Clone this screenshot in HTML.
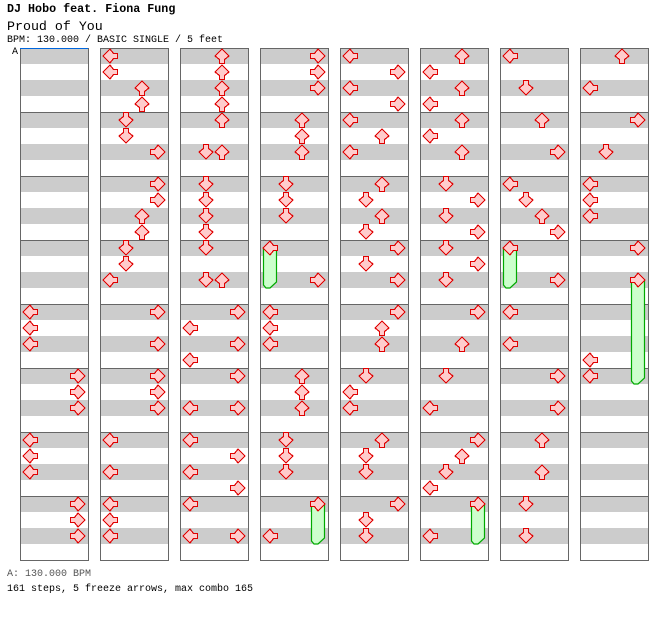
<!DOCTYPE html>
<html><head><meta charset="utf-8"><style>
body{margin:0;background:#fff;width:672px;height:620px;overflow:hidden;position:relative;font-family:"Liberation Mono",monospace}
.t{position:absolute;left:7px;white-space:pre;line-height:1}
</style></head><body>
<div class="t" style="top:4px;font-size:11.7px;font-weight:bold">DJ Hobo feat. Fiona Fung</div>
<div class="t" style="top:20px;font-size:13.3px">Proud of You</div>
<div class="t" style="top:36px;font-size:10px">BPM: 130.000 / BASIC SINGLE / 5 feet</div>
<div class="t" style="top:48px;left:12px;font-size:10px">A</div>
<div class="t" style="top:570px;font-size:10px;color:#555">A: 130.000 BPM</div>
<div class="t" style="top:585px;font-size:10px">161 steps, 5 freeze arrows, max combo 165</div>
<svg id="s" width="672" height="620" style="position:absolute;left:0;top:0" xmlns="http://www.w3.org/2000/svg">
<defs><polygon id="ar" points="8,1 15,8 10.5,11.5 10.5,15.5 5.5,15.5 5.5,11.5 1,8" fill="#ffcccc" stroke="#e00000" stroke-width="1.2" shape-rendering="crispEdges"/></defs>
</svg>
<script>
var s=document.getElementById('s'),h='';
var cols=[
 [[4,0,0],[4,2,0],[4,4,0],[5,0,3],[5,2,3],[5,4,3],[6,0,0],[6,2,0],[6,4,0],[7,0,3],[7,2,3],[7,4,3]],
 [[0,0,0],[0,2,0],[0,4,2],[0,6,2],[1,0,1],[1,2,1],[1,4,3],[2,0,3],[2,2,3],[2,4,2],[2,6,2],[3,0,1],[3,2,1],[3,4,0],[4,0,3],[4,4,3],[5,0,3],[5,2,3],[5,4,3],[6,0,0],[6,4,0],[7,0,0],[7,2,0],[7,4,0]],
 [[0,0,2],[0,2,2],[0,4,2],[0,6,2],[1,0,2],[1,4,1],[1,4,2],[2,0,1],[2,2,1],[2,4,1],[2,6,1],[3,0,1],[3,4,1],[3,4,2],[4,0,3],[4,2,0],[4,4,3],[4,6,0],[5,0,3],[5,4,0],[5,4,3],[6,0,0],[6,2,3],[6,4,0],[6,6,3],[7,0,0],[7,4,0],[7,4,3]],
 [[0,0,3],[0,2,3],[0,4,3],[1,0,2],[1,2,2],[1,4,2],[2,0,1],[2,2,1],[2,4,1],[3,0,0,3,4],[3,4,3],[4,0,0],[4,2,0],[4,4,0],[5,0,2],[5,2,2],[5,4,2],[6,0,1],[6,2,1],[6,4,1],[7,0,3,7,4],[7,4,0]],
 [[0,0,0],[0,2,3],[0,4,0],[0,6,3],[1,0,0],[1,2,2],[1,4,0],[2,0,2],[2,2,1],[2,4,2],[2,6,1],[3,0,3],[3,2,1],[3,4,3],[4,0,3],[4,2,2],[4,4,2],[5,0,1],[5,2,0],[5,4,0],[6,0,2],[6,2,1],[6,4,1],[7,0,3],[7,2,1],[7,4,1]],
 [[0,0,2],[0,2,0],[0,4,2],[0,6,0],[1,0,2],[1,2,0],[1,4,2],[2,0,1],[2,2,3],[2,4,1],[2,6,3],[3,0,1],[3,2,3],[3,4,1],[4,0,3],[4,4,2],[5,0,1],[5,4,0],[6,0,3],[6,2,2],[6,4,1],[6,6,0],[7,0,3,7,4],[7,4,0]],
 [[0,0,0],[0,4,1],[1,0,2],[1,4,3],[2,0,0],[2,2,1],[2,4,2],[2,6,3],[3,0,0,3,4],[3,4,3],[4,0,0],[4,4,0],[5,0,3],[5,4,3],[6,0,2],[6,4,2],[7,0,1],[7,4,1]],
 [[0,0,2],[0,4,0],[1,0,3],[1,4,1],[2,0,0],[2,2,0],[2,4,0],[3,0,3],[3,4,3,5,0],[4,6,0],[5,0,0]]
];
var rot=[-90,180,0,90];
for(var c=0;c<8;c++){
 var X=20+80*c;
 for(var m=0;m<8;m++){var Y=48+64*m;
  h+='<rect x="'+X+'" y="'+Y+'" width="68" height="64" fill="#fff"/>';
  h+='<rect x="'+X+'" y="'+Y+'" width="68" height="16" fill="#cccccc"/><rect x="'+X+'" y="'+(Y+32)+'" width="68" height="16" fill="#cccccc"/>';
 }
 for(var m=0;m<8;m++){h+='<rect x="'+(X+0.5)+'" y="'+(48+64*m+0.5)+'" width="68" height="64" fill="none" stroke="#666" stroke-width="1"/>';}
 var notes=cols[c],fr='',ar='';
 notes.forEach(function(n){
  var lx=X+2+16*n[2],y=48+64*n[0]+8*n[1];
  if(n.length>3){var ey=48+64*n[3]+8*n[4]+16;
   fr+='<polygon points="'+(lx+1.5)+','+(y+8)+' '+(lx+14.5)+','+(y+8)+' '+(lx+14.5)+','+(ey-6)+' '+(lx+8)+','+ey+' '+(lx+4)+','+ey+' '+(lx+1.5)+','+(ey-3)+'" fill="#ccffcc" stroke="#00aa00" stroke-width="1.2"/>';}
  ar+='<use href="#ar" transform="translate('+lx+','+y+') rotate('+rot[n[2]]+',8,8)"/>';
 });
 h+=fr+ar;
}
h+='<line x1="20" y1="48.5" x2="88" y2="48.5" stroke="#0066dd" stroke-width="1"/>';
s.insertAdjacentHTML('beforeend',h);
</script>
</body></html>
